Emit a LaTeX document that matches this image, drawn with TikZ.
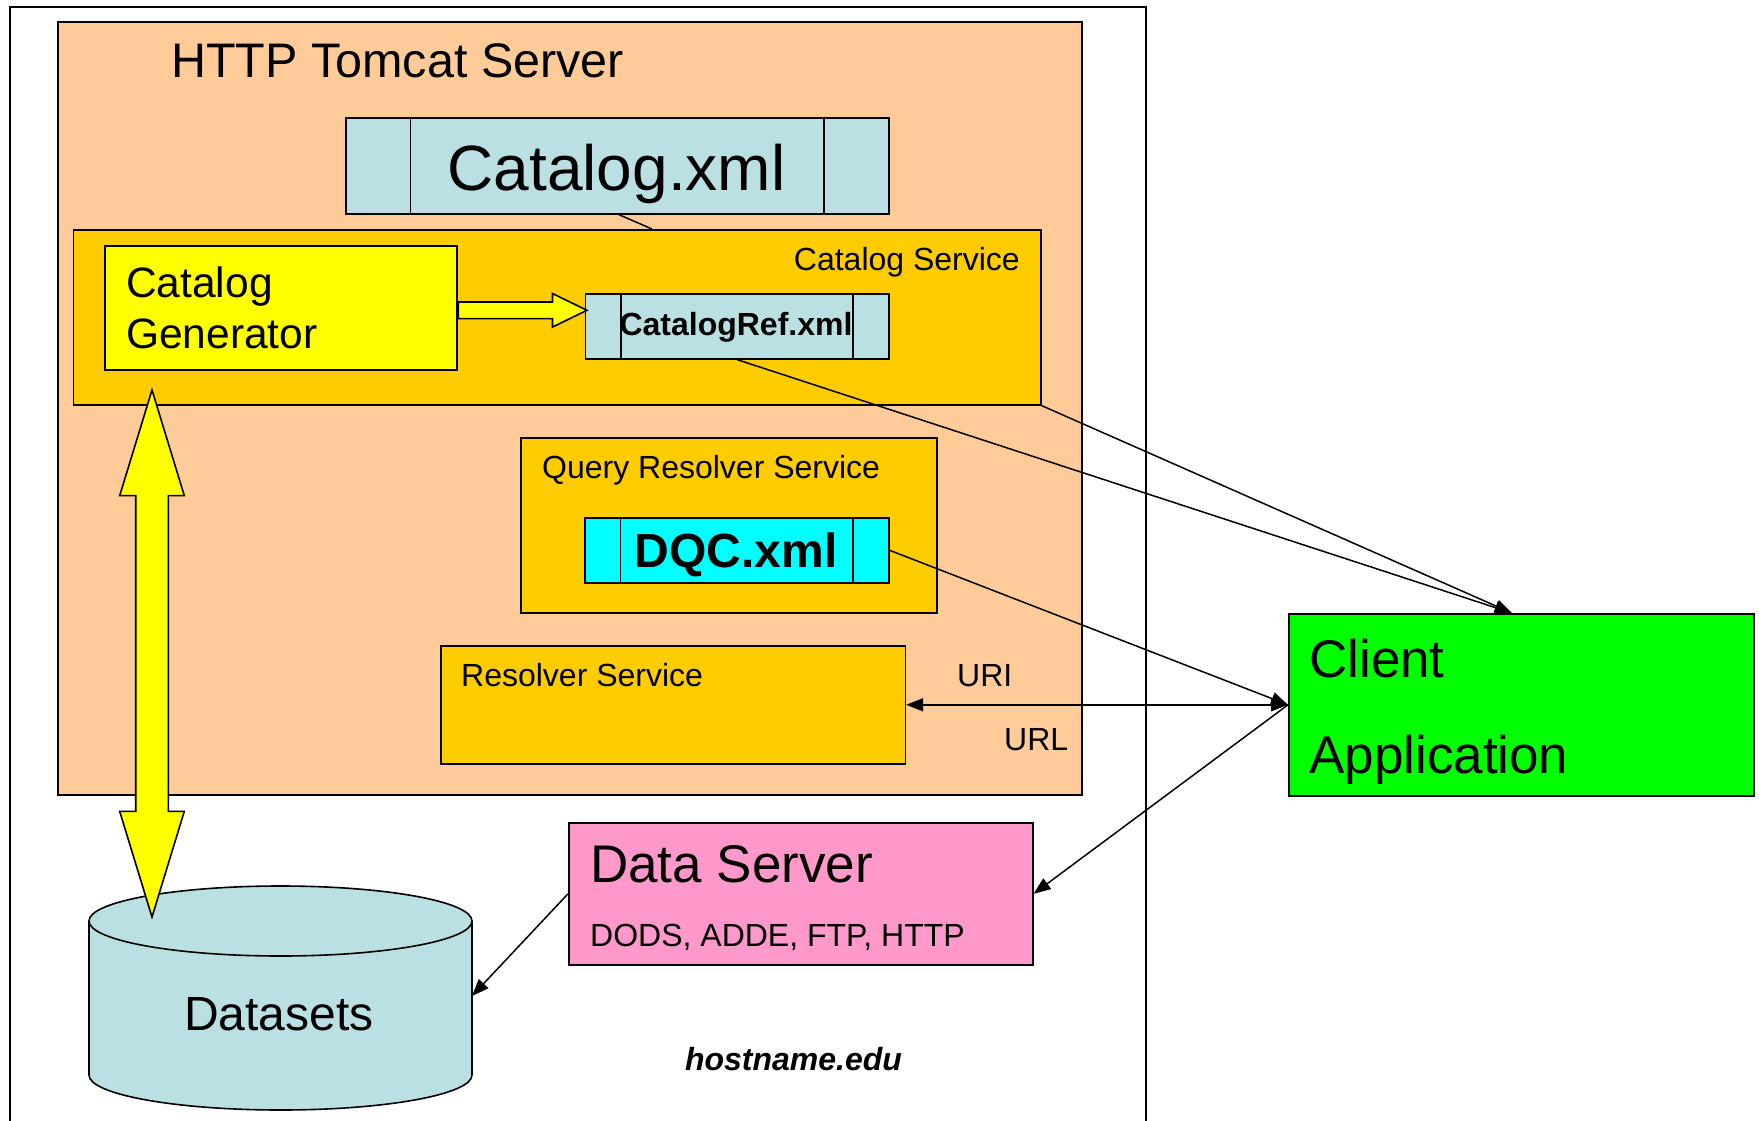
\documentclass[tikz,border=0pt]{standalone}
\usepackage{fontspec}
\setmainfont{Liberation Sans}
\usetikzlibrary{shapes.arrows,arrows.meta}

\definecolor{peach}{HTML}{FFCC99}
\definecolor{svcorange}{HTML}{FFCC00}
\definecolor{genyellow}{HTML}{FFFF00}
\definecolor{xmlblue}{HTML}{BBE0E3}
\definecolor{dqccyan}{HTML}{00FFFF}
\definecolor{clientgreen}{HTML}{00FF00}
\definecolor{datapink}{HTML}{FF99CC}

\begin{document}
\begin{tikzpicture}[x=1pt,y=-1pt,>={Triangle[length=17pt,width=13pt]},
  box/.style={draw,line width=1.6pt,inner sep=0pt,anchor=north west},
  lbl/.style={inner sep=0pt,anchor=base west},
  ctr/.style={inner sep=0pt,anchor=base},
  conn/.style={line width=1.5pt}]
  \useasboundingbox (0,0) rectangle (1759,1121);

  % boxes
  \node[box,minimum width=1136pt,minimum height=1140pt] (host) at (9,6) {};
  \node[box,fill=peach,minimum width=1024pt,minimum height=773pt] (tomcat) at (57,21) {};
  \node[box,fill=xmlblue,minimum width=543pt,minimum height=96pt] (catxml) at (345,117) {};
  \node[box,fill=svcorange,minimum width=967.5pt,minimum height=175pt] (catsrv) at (72.5,229) {};
  \node[box,fill=genyellow,minimum width=352pt,minimum height=124pt] (gen) at (104,245) {};
  \node[box,fill=xmlblue,minimum width=303.5pt,minimum height=65pt] (catref) at (584.5,293) {};
  \node[box,fill=svcorange,minimum width=416pt,minimum height=175pt] (qrs) at (520,437) {};
  \node[box,fill=dqccyan,minimum width=304pt,minimum height=65pt] (dqc) at (584,517) {};
  \node[box,fill=svcorange,minimum width=464.5pt,minimum height=118pt] (res) at (440,645) {};
  \node[box,fill=clientgreen,minimum width=465pt,minimum height=182pt] (client) at (1288,613) {};
  \node[box,fill=datapink,minimum width=464pt,minimum height=142pt] (data) at (568,822) {};

  % side bars of the xml boxes
  \foreach \n/\d in {catxml/65.5,catref/36.5,dqc/36.5}{
    \draw[line width=1.6pt] ([xshift=\d pt]\n.north west) -- ([xshift=\d pt]\n.south west);
    \draw[line width=1.6pt] ([xshift=-\d pt]\n.north east) -- ([xshift=-\d pt]\n.south east);
  }

  % datasets cylinder
  \draw[line width=1.6pt,fill=xmlblue] (89,921) -- (89,1075)
    arc[start angle=180,end angle=360,x radius=191.5pt,y radius=35pt] -- (472,921);
  \draw[line width=1.6pt,fill=xmlblue] (280.5,921) ellipse[x radius=191.5pt,y radius=35pt];
  \coordinate (dsin) at (472,996);

  % texts
  \node[lbl,font=\fontsize{48.5}{58}\selectfont] (tomcatlbl) at (171,78) {HTTP Tomcat Server};
  \node[ctr,font=\fontsize{64}{76}\selectfont] (catxmllbl) at (616.5,190) {Catalog.xml};
  \node[inner sep=0pt,anchor=base east,font=\fontsize{32}{38}\selectfont] (catsrvlbl) at (1020,270) {Catalog Service};
  \node[lbl,font=\fontsize{42.5}{51}\selectfont] (genlbla) at (126,297) {Catalog};
  \node[lbl,font=\fontsize{42.5}{51}\selectfont] (genlblb) at (126,348) {Generator};
  \node[ctr,font=\bfseries\fontsize{32}{38}\selectfont] (catreflbl) at (736,335) {CatalogRef.xml};
  \node[lbl,font=\fontsize{32}{38}\selectfont] (qrslbl) at (542,478) {Query Resolver Service};
  \node[ctr,font=\bfseries\fontsize{48}{58}\selectfont] (dqclbl) at (736,567) {DQC.xml};
  \node[lbl,font=\fontsize{32}{38}\selectfont] (reslbl) at (461,686) {Resolver Service};
  \node[lbl,font=\fontsize{32}{38}\selectfont] (urilbl) at (957,686) {URI};
  \node[lbl,font=\fontsize{32}{38}\selectfont] (urllbl) at (1004,750) {URL};
  \node[lbl,font=\fontsize{53}{64}\selectfont] (clientlbla) at (1309,677) {Client};
  \node[lbl,font=\fontsize{53}{64}\selectfont] (clientlblb) at (1309,773) {Application};
  \node[lbl,font=\fontsize{53}{64}\selectfont] (datalbl) at (590,882) {Data Server};
  \node[lbl,font=\fontsize{32}{38}\selectfont] (protolbl) at (590,946) {DODS, ADDE, FTP, HTTP};
  \node[ctr,font=\fontsize{48}{58}\selectfont] (dslbl) at (279,1030) {Datasets};
  \node[ctr,font=\bfseries\itshape\fontsize{32}{38}\selectfont] (hostlbl) at (793.5,1070) {hostname.edu};

  % connectors
  \draw[conn] ([xshift=1.5pt]catxml.south) -- ([xshift=95pt]catsrv.north);
  \draw[conn,->] (catsrv.south east) -- ([xshift=-9.5pt]client.north);
  \draw[conn,->] (catref.south) -- ([xshift=-9.5pt]client.north);
  \draw[conn,->] (dqc.east) -- (client.west);
  \draw[conn,<->] (res.east) -- (client.west);
  \draw[conn,->] (client.west) -- (data.east);
  \draw[conn,->] (data.west) -- (dsin);

  % block arrows
  \node[single arrow,draw,fill=genyellow,line width=1.6pt,inner sep=7.5pt,
    single arrow head extend=8.5pt,single arrow tip angle=52,
    minimum height=128.5pt,anchor=tail] (genarrow) at ([yshift=-2.5pt]gen.east) {};
  \node[double arrow,draw,fill=genyellow,line width=1.6pt,inner sep=15.5pt,
    double arrow head extend=16pt,double arrow tip angle=34,
    minimum height=527pt,rotate=90] (feed) at (152,653.5) {};
\end{tikzpicture}
\end{document}
